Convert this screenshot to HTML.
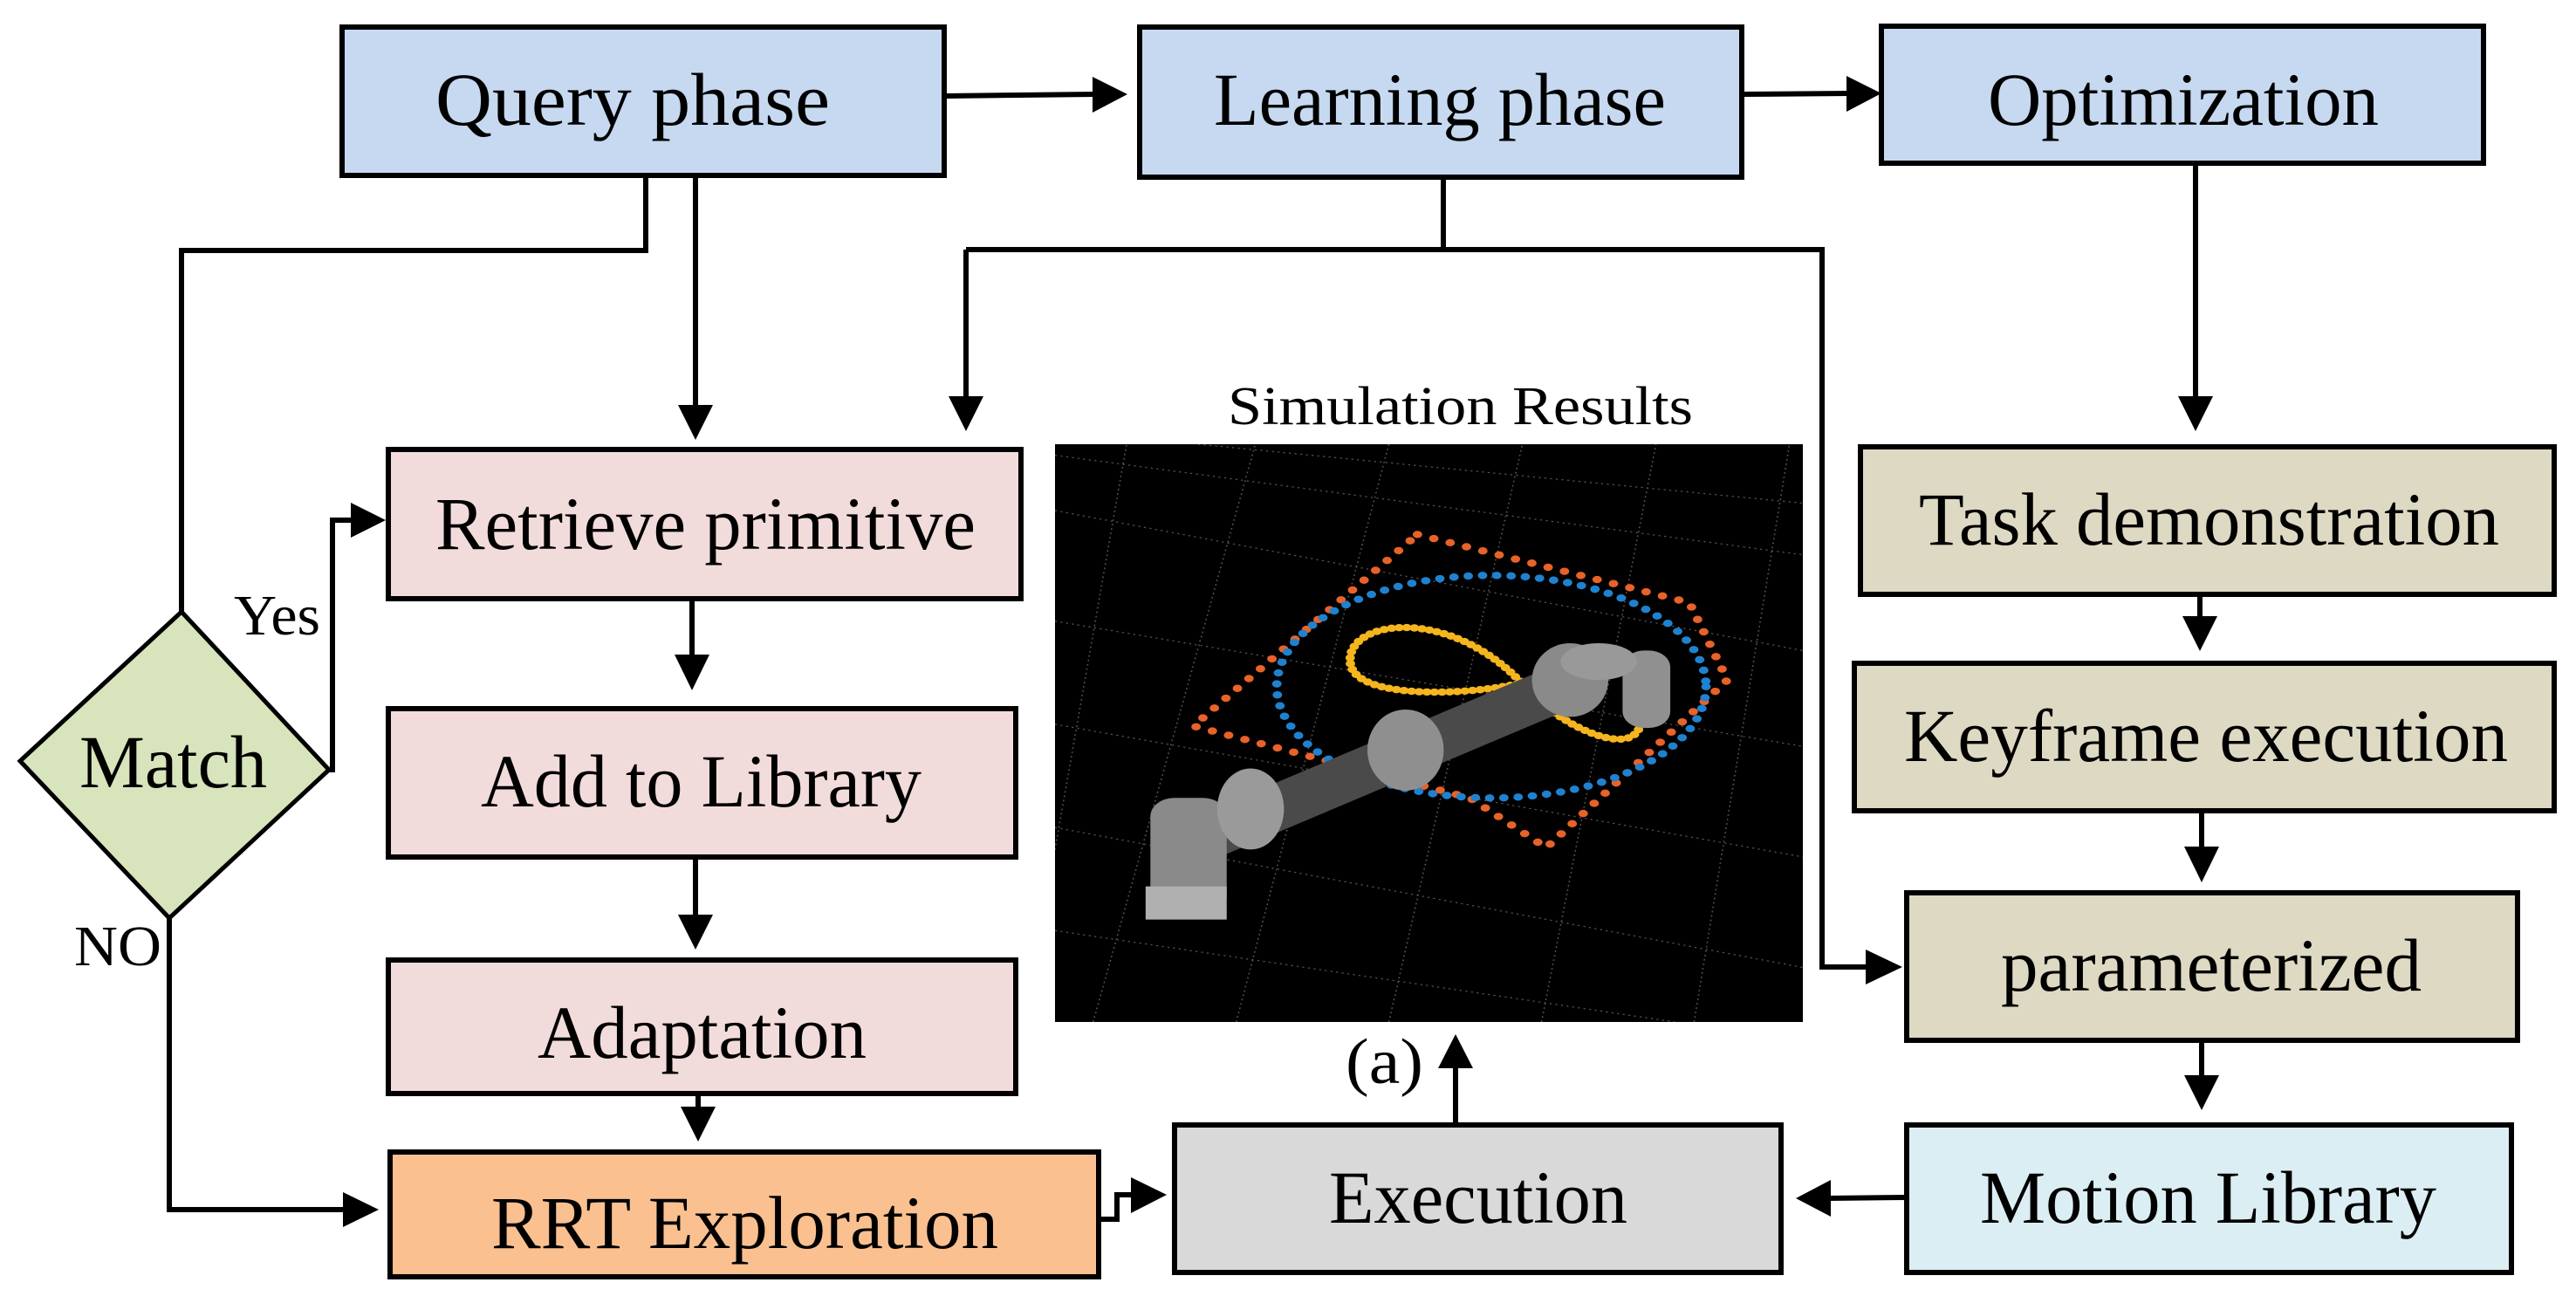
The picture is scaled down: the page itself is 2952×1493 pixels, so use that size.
<!DOCTYPE html>
<html><head><meta charset="utf-8"><style>html,body{margin:0;padding:0;background:#fff;}svg{display:block}</style></head>
<body>
<svg width="2952" height="1493" viewBox="0 0 2952 1493" xmlns="http://www.w3.org/2000/svg" font-family="'Liberation Serif', serif">
<rect width="2952" height="1493" fill="#fff"/>
<g stroke="#000" stroke-width="6">
<rect x="392" y="31" width="690" height="170" fill="#c6d9f0"/>
<rect x="1306" y="31" width="690" height="172" fill="#c6d9f0"/>
<rect x="2156" y="30" width="690" height="157" fill="#c6d9f0"/>
<rect x="445" y="515" width="725" height="171" fill="#f2dcdb"/>
<rect x="445" y="812" width="719" height="170" fill="#f2dcdb"/>
<rect x="445" y="1100" width="719" height="153" fill="#f2dcdb"/>
<rect x="447" y="1320" width="812" height="143" fill="#fac090"/>
<rect x="1346" y="1289" width="695" height="169" fill="#d9d9d9"/>
<rect x="2185" y="1289" width="693" height="169" fill="#dbeef3"/>
<rect x="2185" y="1023" width="700" height="169" fill="#ddd9c3"/>
<rect x="2125" y="760" width="802" height="169" fill="#ddd9c3"/>
<rect x="2132" y="512" width="795" height="169" fill="#ddd9c3"/>
<polygon points="208,701 377,882 194,1052 23,872" fill="#d7e4bc" stroke-width="5"/>
</g>
<g stroke="#000" stroke-width="6" fill="none">
<polyline points="1082,110 1255,108"/>
<polyline points="1996,108 2120,107"/>
<polyline points="740,201 740,287 208,287 208,701"/>
<polyline points="797,201 797,465"/>
<polyline points="1654,203 1654,286"/>
<polyline points="1107,286 2088,286 2088,1108 2140,1108"/>
<polyline points="1107,286 1107,455"/>
<polyline points="2516,187 2516,455"/>
<polyline points="2521,681 2521,712"/>
<polyline points="2523,929 2523,975"/>
<polyline points="2523,1192 2523,1236"/>
<polyline points="2185,1372 2095,1373"/>
<polyline points="1668,1289 1668,1222"/>
<polyline points="793,686 793,752"/>
<polyline points="797,982 797,1050"/>
<polyline points="800,1253 800,1272"/>
<polyline points="377,882 381,882 381,596 405,596"/>
<polyline points="194,1052 194,1386 404,1386"/>
<polyline points="1262,1397 1280,1397 1280,1369 1300,1369"/>
</g>
<g fill="#000">
<polygon points="1252,88 1292,108 1252,129"/>
<polygon points="2116,87 2156,107 2116,128"/>
<polygon points="777,464 817,464 797,504"/>
<polygon points="1087,454 1127,454 1107,494"/>
<polygon points="2496,454 2536,454 2516,494"/>
<polygon points="2501,706 2541,706 2521,746"/>
<polygon points="2503,970 2543,970 2523,1011"/>
<polygon points="2503,1232 2543,1232 2523,1272"/>
<polygon points="2138,1088 2180,1108 2138,1128"/>
<polygon points="2098,1352 2058,1373 2098,1394"/>
<polygon points="1648,1224 1688,1224 1668,1185"/>
<polygon points="773,750 813,750 793,791"/>
<polygon points="777,1048 817,1048 797,1088"/>
<polygon points="780,1268 820,1268 800,1308"/>
<polygon points="402,576 442,596 402,616"/>
<polygon points="393,1366 434,1386 393,1406"/>
<polygon points="1296,1349 1337,1369 1296,1390"/>
</g>
<g font-size="86" fill="#000">
<text x="499" y="143" textLength="452" lengthAdjust="spacingAndGlyphs">Query phase</text>
<text x="1391" y="143" textLength="518" lengthAdjust="spacingAndGlyphs">Learning phase</text>
<text x="2278" y="143" textLength="448" lengthAdjust="spacingAndGlyphs">Optimization</text>
<text x="499" y="629" textLength="619" lengthAdjust="spacingAndGlyphs">Retrieve primitive</text>
<text x="551" y="924" textLength="505" lengthAdjust="spacingAndGlyphs">Add to Library</text>
<text x="616" y="1212" textLength="377" lengthAdjust="spacingAndGlyphs">Adaptation</text>
<text x="563" y="1430" textLength="581" lengthAdjust="spacingAndGlyphs">RRT Exploration</text>
<text x="91" y="902" textLength="215" lengthAdjust="spacingAndGlyphs">Match</text>
<text x="1523" y="1401" textLength="342" lengthAdjust="spacingAndGlyphs">Execution</text>
<text x="2269" y="1401" textLength="523" lengthAdjust="spacingAndGlyphs">Motion Library</text>
<text x="2293" y="1135" textLength="482" lengthAdjust="spacingAndGlyphs">parameterized</text>
<text x="2182" y="872" textLength="692" lengthAdjust="spacingAndGlyphs">Keyframe execution</text>
<text x="2199" y="624" textLength="665" lengthAdjust="spacingAndGlyphs">Task demonstration</text>
</g>
<text x="268" y="727" font-size="66" textLength="99" lengthAdjust="spacingAndGlyphs">Yes</text>
<text x="85" y="1106" font-size="66" textLength="100" lengthAdjust="spacingAndGlyphs">NO</text>
<text x="1542" y="1241" font-size="74" textLength="89" lengthAdjust="spacingAndGlyphs">(a)</text>
<text x="1407" y="486" font-size="62" textLength="533" lengthAdjust="spacingAndGlyphs">Simulation Results</text>
<svg x="1209" y="509" width="857" height="662" viewBox="0 0 1568 1568" preserveAspectRatio="none">
<rect width="1568" height="1568" fill="#000"/>
<g stroke="#555" stroke-width="3" stroke-dasharray="4 8" fill="none">
<path d="M0,180 L1568,560 M0,480 L1568,820 M0,760 L1568,1120 M0,1040 L1568,1420 M0,1320 L1300,1568 M0,30 L1568,300 M300,0 L1568,160"/>
<path d="M80,1568 L420,0 M380,1568 L700,0 M700,1568 L980,0 M1020,1568 L1260,0 M1340,1568 L1540,0 M0,1100 L150,0"/>
</g>
<g fill="none" stroke-linecap="round">
<path d="M760,245 L1330,430 L1410,640 L1030,1095 L870,960 L290,765 Z" stroke="#e8622a" stroke-width="20" stroke-dasharray="0 36"/>
<ellipse cx="915" cy="658" rx="450" ry="302" stroke="#1f82d0" stroke-width="20" stroke-dasharray="0 30"/>
<path d="M1000,640 C900,680 640,700 620,600 C600,480 820,430 980,650 C1050,760 1200,850 1225,770" stroke="#f5b51e" stroke-width="20" stroke-dasharray="0 16"/>
</g>
<g stroke-linecap="round">
<line x1="330" y1="1060" x2="1080" y2="650" stroke="#4a4a4a" stroke-width="120"/>
<rect x="200" y="960" width="160" height="320" rx="50" fill="#8a8a8a"/>
<rect x="190" y="1200" width="170" height="90" fill="#b0b0b0"/>
<ellipse cx="410" cy="990" rx="70" ry="110" fill="#9a9a9a"/>
<ellipse cx="735" cy="830" rx="80" ry="110" fill="#8f8f8f"/>
<ellipse cx="1080" cy="640" rx="80" ry="100" fill="#8a8a8a"/>
<rect x="1190" y="560" width="100" height="210" rx="45" fill="#909090"/>
<ellipse cx="1140" cy="590" rx="80" ry="50" fill="#999"/>
</g>
</svg>
</svg>
</body></html>
